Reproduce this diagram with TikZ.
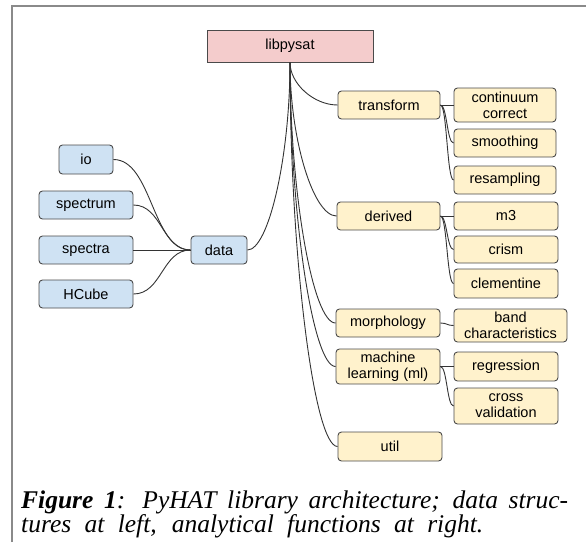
\documentclass[tikz,border=0pt]{standalone}
\usepackage{fontspec}
\usetikzlibrary{calc}
\setmainfont{Liberation Serif}
\newfontfamily\arialf{Liberation Sans}
\definecolor{pinkf}{HTML}{F4CCCC}
\definecolor{yelf}{HTML}{FFF2CC}
\definecolor{bluf}{HTML}{CFE2F3}
\definecolor{bord}{HTML}{4A4A4A}
\definecolor{linec}{HTML}{333333}
\definecolor{framec}{HTML}{8A8A8A}
% curved connectors (Google-Drawings-like)
\newcommand\pyDownRight[2]{\draw[conn] let \p1=(#1), \p2=(#2) in
  (\p1) .. controls (\x1, 0.5*\y1+0.5*\y2) and (0.5*\x1+0.5*\x2, \y2) .. (\p2);}
\newcommand\pyRightUp[2]{\draw[conn] let \p1=(#1), \p2=(#2) in
  (\p1) .. controls (0.5*\x1+0.5*\x2, \y1) and (\x2, 0.5*\y1+0.5*\y2) .. (\p2);}
\newcommand\pyS[2]{\draw[conn] let \p1=(#1), \p2=(#2) in
  (\p1) .. controls (0.5*\x1+0.5*\x2, \y1) and (0.5*\x1+0.5*\x2, \y2) .. (\p2);}
\begin{document}
\begin{tikzpicture}[x=1pt,y=-1pt,
  box/.style={draw=bord,line width=0.9pt,rounded corners=3.5pt,inner sep=0pt,align=center,
    font=\arialf\fontsize{14.5}{16}\selectfont},
  ybox/.style={box,fill=yelf},
  bbox/.style={box,fill=bluf},
  conn/.style={draw=linec,line width=0.9pt},
  captext/.style={anchor=base west,inner sep=0pt,font=\fontsize{25.5}{24}\selectfont\itshape},
]
\useasboundingbox (0,0) rectangle (586,542);
\draw[framec,line width=1.5pt] (12,542) -- (12,6) -- (586,6);

\node[box,fill=pinkf,rounded corners=0pt,minimum width=166pt,minimum height=32pt] (lib) at (290,46) {libpysat};

\node[ybox,minimum width=102pt,minimum height=28pt] (transform) at (389,105) {transform};
\node[ybox,minimum width=102pt,minimum height=34pt] (cont) at (505,105) {continuum\\correct};
\node[ybox,minimum width=102pt,minimum height=28pt] (smooth) at (505,143) {smoothing};
\node[ybox,minimum width=102pt,minimum height=28pt] (resamp) at (505,180) {resampling};

\node[ybox,minimum width=103pt,minimum height=28pt] (derived) at (388.5,216) {derived};
\node[ybox,minimum width=104pt,minimum height=28pt] (m3) at (506,216) {m3};
\node[ybox,minimum width=104pt,minimum height=27pt] (crism) at (506,249.5) {crism};
\node[ybox,minimum width=104pt,minimum height=29pt] (clem) at (506,283.5) {clementine};

\node[ybox,minimum width=104pt,minimum height=28pt] (morph) at (388,323) {morphology};
\node[ybox,minimum width=113pt,minimum height=33pt] (band) at (510.5,325.5) {band\\characteristics};

\node[ybox,minimum width=104pt,minimum height=35pt] (ml) at (388,366.5) {machine\\learning (ml)};
\node[ybox,minimum width=104pt,minimum height=29pt] (regr) at (506,366.5) {regression};
\node[ybox,minimum width=104pt,minimum height=36pt] (cross) at (506,406) {cross\\validation};

\node[ybox,minimum width=104pt,minimum height=29pt] (util) at (390,446.5) {util};

\node[bbox,minimum width=54pt,minimum height=29pt] (io) at (86,159.5) {io};
\node[bbox,minimum width=94pt,minimum height=28pt] (spectrum) at (86,205) {spectrum};
\node[bbox,minimum width=94pt,minimum height=28pt] (spectra) at (86,250) {spectra};
\node[bbox,minimum width=94pt,minimum height=28pt] (hcube) at (86,294) {HCube};
\node[bbox,minimum width=56pt,minimum height=28pt] (data) at (219,250) {data};

% connectors from libpysat
\foreach \k in {transform,derived,morph,ml,util}
  {\pyDownRight{lib.south}{\k.west}}
\pyRightUp{data.east}{lib.south}
% left side
\foreach \k in {io,spectrum,spectra,hcube}
  {\pyS{\k.east}{data.west}}
% right sub-branches
\foreach \k in {cont,smooth,resamp}
  {\pyS{transform.east}{\k.west}}
\foreach \k in {m3,crism,clem}
  {\pyS{derived.east}{\k.west}}
\pyS{morph.east}{band.west}
\foreach \k in {regr,cross}
  {\pyS{ml.east}{\k.west}}

% caption
\node[captext] (cap1) at (21,508)
  {\makebox[547pt][s]{\textbf{Figure 1}: PyHAT library architecture; data struc-}};
\node[captext] (cap2) at (21,532)
  {\makebox[462pt][s]{tures at left, analytical functions at right.}};
\end{tikzpicture}
\end{document}
